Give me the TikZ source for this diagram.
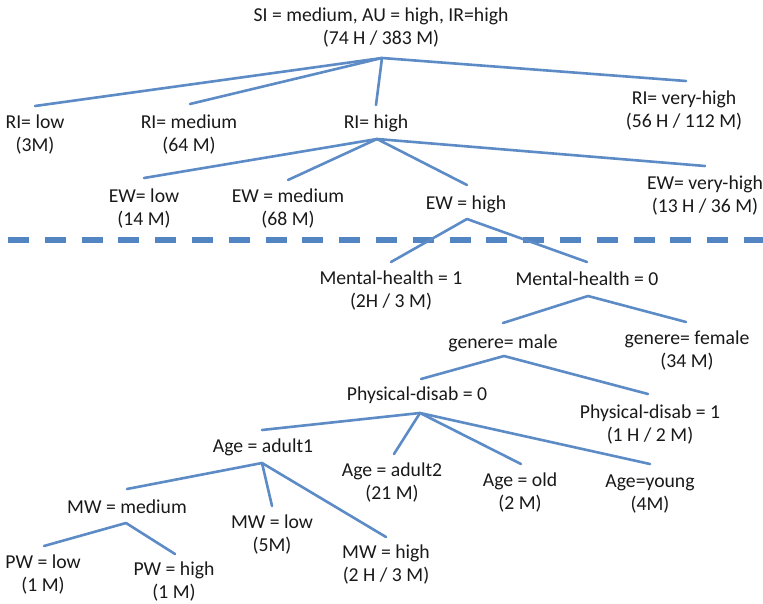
\documentclass[tikz,border=0pt]{standalone}
\usepackage{fontspec}
\setmainfont{Carlito}
\definecolor{branchblue}{RGB}{92,139,198}
\definecolor{sepblue}{RGB}{82,133,194}
\definecolor{labelgray}{RGB}{25,25,25}
\begin{document}
\begin{tikzpicture}[x=1pt,y=-1pt,
  lbl/.style={align=center,inner sep=0pt,text=labelgray,
    font=\fontsize{19.7}{23}\selectfont},
  branch/.style={draw=branchblue,line width=2.6pt,line cap=round,line join=round},
  separator/.style={draw=sepblue,line width=6pt,dash pattern=on 21pt off 15.8pt}]
\useasboundingbox (0,0) rectangle (763,604);

% separator between the upper and lower part of the tree
\coordinate (sepL) at (8,240);
\coordinate (sepR) at (775,240);
\begin{scope}
  \clip (0,0) rectangle (763,604);
  \draw[separator] (sepL) -- (sepR);
\end{scope}

% labels
\node[lbl] (root)   at (381,28)  {SI = medium, AU = high, IR=high\\(74 H / 383 M)};
\node[lbl] (rilow)  at (35,135)  {RI= low\\(3M)};
\node[lbl] (rimed)  at (189,135) {RI= medium\\(64 M)};
\node[lbl] (rihigh) at (376,123) {RI= high};
\node[lbl] (rivh)   at (684,111) {RI= very-high\\(56 H / 112 M)};
\node[lbl] (ewlow)  at (144,209) {EW= low\\(14 M)};
\node[lbl] (ewmed)  at (288,209) {EW = medium\\(68 M)};
\node[lbl] (ewhigh) at (466,204) {EW = high};
\node[lbl] (ewvh)   at (705,196) {EW= very-high\\(13 H / 36 M)};
\node[lbl] (mhone)  at (391,291) {Mental-health = 1\\(2H / 3 M)};
\node[lbl] (mhzero) at (587,279) {Mental-health = 0};
\node[lbl] (male)   at (503,343) {genere= male};
\node[lbl] (female) at (687,351) {genere= female\\(34 M)};
\node[lbl] (pdzero) at (417,395) {Physical-disab = 0};
\node[lbl] (pdone)  at (650,425) {Physical-disab = 1\\(1 H / 2 M)};
\node[lbl] (adulta) at (263,447) {Age = adult1};
\node[lbl] (adultb) at (392,483) {Age = adult2\\(21 M)};
\node[lbl] (old)    at (520,493) {Age = old\\(2 M)};
\node[lbl] (young)  at (650,494) {Age=young\\(4M)};
\node[lbl] (mwmed)  at (127,507) {MW = medium};
\node[lbl] (mwlow)  at (272,535) {MW = low\\(5M)};
\node[lbl] (mwhigh) at (386,565) {MW = high\\(2 H / 3 M)};
\node[lbl] (pwlow)  at (43,575)  {PW = low\\(1 M)};
\node[lbl] (pwhigh) at (174,582) {PW = high\\(1 M)};

% branching points below each split label
\coordinate (root-j)   at (382,58);
\coordinate (rihigh-j) at (377,139);
\coordinate (ewhigh-j) at (467,219);
\coordinate (mhzero-j) at (588,296);
\coordinate (male-j)   at (504,356);
\coordinate (pdzero-j) at (420,413);
\coordinate (adulta-j) at (262,463);
\coordinate (mwmed-j)  at (126,523);

% branch tips above each child label
\coordinate (rilow-t)  at (35,106);
\coordinate (rimed-t)  at (190,104);
\coordinate (rihigh-t) at (376,105);
\coordinate (rivh-t)   at (686,81);
\coordinate (ewlow-t)  at (144,178);
\coordinate (ewmed-t)  at (288,180);
\coordinate (ewhigh-t) at (467,185);
\coordinate (ewvh-t)   at (705,166);
\coordinate (mhone-t)  at (391,262);
\coordinate (mhzero-t) at (587,262);
\coordinate (male-t)   at (503,323);
\coordinate (female-t) at (686,322);
\coordinate (pdzero-t) at (421,379);
\coordinate (pdone-t)  at (648,394);
\coordinate (adulta-t) at (262,430);
\coordinate (adultb-t) at (394,454);
\coordinate (old-t)    at (521,464);
\coordinate (young-t)  at (650,464);
\coordinate (mwmed-t)  at (127,489);
\coordinate (mwlow-t)  at (272,506);
\coordinate (mwhigh-t) at (386,537);
\coordinate (pwlow-t)  at (44,546);
\coordinate (pwhigh-t) at (175,554);

% tree branches
\foreach \p/\c in {root/rilow, root/rimed, root/rihigh, root/rivh,
                   rihigh/ewlow, rihigh/ewmed, rihigh/ewhigh, rihigh/ewvh,
                   ewhigh/mhone, ewhigh/mhzero,
                   mhzero/male, mhzero/female,
                   male/pdzero, male/pdone,
                   pdzero/adulta, pdzero/adultb, pdzero/old, pdzero/young,
                   adulta/mwmed, adulta/mwlow, adulta/mwhigh,
                   mwmed/pwlow, mwmed/pwhigh}
  \draw[branch] (\p-j) -- (\c-t);
\end{tikzpicture}
\end{document}
